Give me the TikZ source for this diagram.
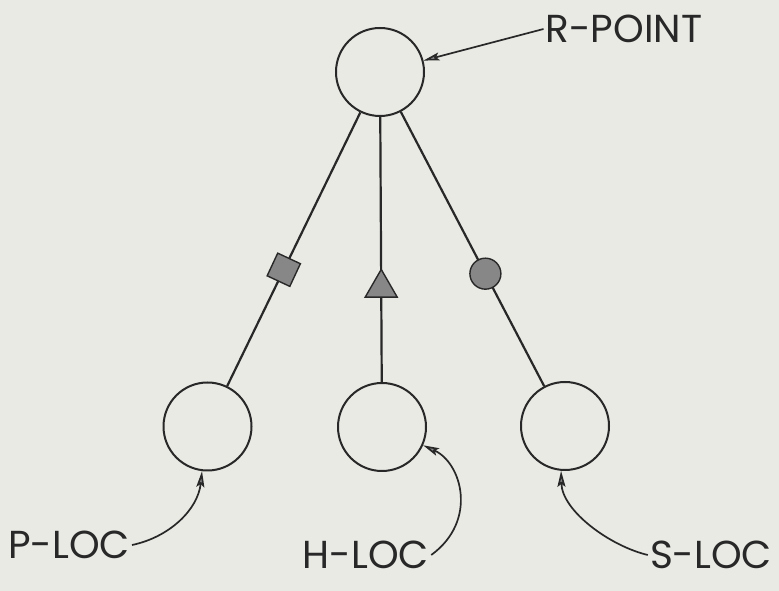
\documentclass[tikz,border=0pt]{standalone}
\usepackage{fontspec}
\setmainfont{Poppins}
\usetikzlibrary{arrows.meta,shapes.geometric}

\definecolor{paper}{RGB}{233,234,228}
\definecolor{ink}{RGB}{40,40,40}
\definecolor{shade}{RGB}{135,135,135}

\tikzset{
  place/.style={circle, draw=ink, line width=2pt, minimum size=88pt, inner sep=0pt},
  label/.style={text=ink, inner sep=2pt, font=\fontsize{39}{42}\selectfont},
  edge/.style={draw=ink, line width=2.2pt},
  pointer/.style={draw=ink, line width=1.7pt,
    -{Stealth[length=16pt, width=8pt, inset=3pt, fill=shade]}},
  sqmark/.style={draw=ink, fill=shade, line width=1.4pt, minimum size=25pt,
    inner sep=0pt, rotate=-25},
  trimark/.style={regular polygon, regular polygon sides=3, draw=ink, fill=shade,
    line width=1.4pt, minimum size=37pt, inner sep=0pt},
  dotmark/.style={circle, draw=ink, fill=shade, line width=1.4pt,
    minimum size=31pt, inner sep=0pt}
}

\begin{document}
\begin{tikzpicture}[x=1pt, y=1pt]
  \fill[paper] (0,0) rectangle (779,591);
  \useasboundingbox (0,0) rectangle (779,591);

  % the root and its three locations
  \node[place] (R) at (380,519) {};
  \node[place] (P) at (207.5,164.5) {};
  \node[place] (H) at (382,164) {};
  \node[place] (S) at (565,165) {};

  % branches with their markers
  \draw[edge] (R) -- node[sqmark, pos=0.575] (msq) {} (P);
  \draw[edge] (R) -- node[trimark, pos=0.645] (mtri) {} (H);
  \draw[edge] (R) -- node[dotmark, pos=0.59] (mdot) {} (S);

  % labels
  \node[label] (rlab) at (624,562) {R-POINT};
  \node[label] (plab) at (69,46) {P-LOC};
  \node[label] (hlab) at (366,36) {H-LOC};
  \node[label] (slab) at (711,36) {S-LOC};

  % pointers from labels to places
  \draw[pointer] (rlab.west) -- (R);
  \draw[pointer] (plab.east) .. controls +(38,8) and +(-4,-38) .. (P.-97);
  \draw[pointer] (hlab.east) .. controls (478,70) and (462,128) .. (H.-24);
  \draw[pointer] (slab.west) .. controls (610,45) and (562,80) .. (S.-95);
\end{tikzpicture}
\end{document}
